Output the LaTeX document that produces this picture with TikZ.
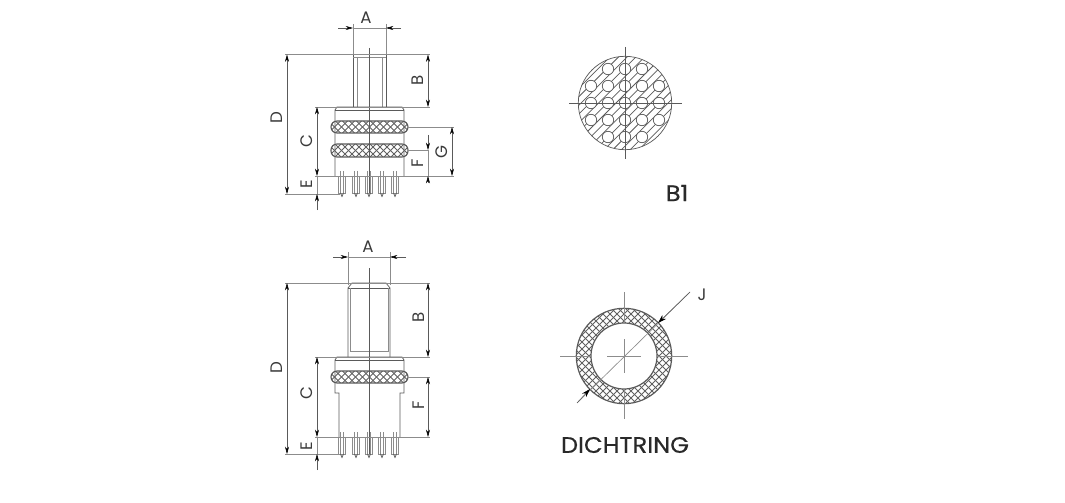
\documentclass[tikz,border=0pt]{standalone}
\usepackage{fontspec}
\setmainfont{Poppins}
\newfontfamily\titlefont[FakeBold=0.55, FakeStretch=1.08]{Poppins}
\usepackage{xcolor}
\definecolor{base01}{HTML}{5a5a5a}
\definecolor{base02}{HTML}{8c8c8c}
\definecolor{base03}{HTML}{3a3a3a}
\definecolor{base04}{HTML}{606060}
\usetikzlibrary{arrows.meta, positioning}
\tikzset{
    part/.style={draw=base01, line width=.55pt},
    thin part/.style={draw=base02, line width=.5pt},
    mesh/.style={draw=base04, line width=.6pt},
    ext/.style={draw=base02, line width=.4pt},
    conn/.style={
        draw=base01, line width=.4pt,
        {Stealth[length=5.5pt, width=3pt, black]}-{Stealth[length=5.5pt, width=3pt, black]},
    },
    connr/.style={
        draw=base01, line width=.4pt,
        -{Stealth[length=5.5pt, width=3pt, black]},
    },
    connj/.style={
        draw=base01, line width=.4pt,
        -{Stealth[length=6.5pt, width=4pt, black]},
    },
    dimlabel/.style={text=base03, inner sep=0pt, font=\fontsize{12.5}{14}\selectfont},
    dimlabelr/.style={dimlabel, rotate=90},
    title/.style={text=base03!70!black, inner sep=0pt, font=\titlefont\fontsize{16.8}{20}\selectfont},
    pics/lead/.style={code={
        \draw[thin part] (-3.5,0) rectangle (3.5,17);
        \draw[thin part] (-1.5,-5) -- (-1.5,17);
        \draw[thin part] (1.5,-5) -- (1.5,17);
        \draw[part] (-1.5,17) -- (0,20.5) -- (1.5,17);
    }},
}
% knurled band with rounded ends
\newcommand{\knurl}[4]{
    \begin{scope}
        \clip[rounded corners=6*.75pt] (#1,#2) rectangle (#3,#4);
        \foreach \s in {-63,-56,...,63} {
            \draw[mesh] ({(#1+#3)/2+\s-12},{(#2+#4)/2-12}) -- ({(#1+#3)/2+\s+12},{(#2+#4)/2+12});
            \draw[mesh] ({(#1+#3)/2+\s-12},{(#2+#4)/2+12}) -- ({(#1+#3)/2+\s+12},{(#2+#4)/2-12});
        }
    \end{scope}
    \draw[draw=base01, line width=.85pt, rounded corners=6*.75pt] (#1,#2) rectangle (#3,#4);
}
\begin{document}
\begin{tikzpicture}[x=.75pt, y=-.75pt]
    \useasboundingbox (0,0) rectangle (1065,503);

    % upper view
    \draw[part] (353,55) -- (353,107) (386,55) -- (386,107);
    \draw[thin part] (357,57) -- (357,107) (382,57) -- (382,107);
    \draw[thin part] (353,57) -- (386,57);
    \draw[part] (335,176) -- (335,110) -- (337,107) -- (402,107) -- (404,110) -- (404,176);
    \draw[part] (335,110) -- (404,110);
    \knurl{331}{121}{408}{133}
    \knurl{331}{144}{408}{157}
    \foreach \x in {342, 356, 369, 382, 395}
        \pic at (\x,176) {lead};
    \draw[part] (369,48) -- (369,193);

    \coordinate (a1) at (353,28);
    \coordinate (a2) at (386,28);
    \coordinate (d1) at (287,54.5);
    \coordinate (d2) at (287,194);
    \coordinate (b1) at (428,54.5);
    \coordinate (b2) at (428,107);
    \coordinate (c1) at (317,107);
    \coordinate (c2) at (317,176);
    \coordinate (e1) at (317,194);
    \coordinate (e2) at (317,210);
    \coordinate (g1) at (452,127);
    \coordinate (g2) at (452,176);
    \coordinate (f1) at (428,150);
    \coordinate (f2) at (428,176);
    \coordinate (f3) at (428,135);
    \coordinate (f4) at (428,183);

    \draw[ext] (353,24) -- (353,55) (386,24) -- (386,55);
    \draw[ext] (285,54.5) -- (430,54.5) (285,194) -- (340,194);
    \draw[ext] (315,107) -- (430,107) (315,176) -- (454,176);
    \draw[ext] (408,127) -- (454,127) (408,150) -- (428,150);

    \draw[connr] (338,28) -- (a1);
    \draw[connr] (401,28) -- (a2);
    \draw[ext] (a1) -- (a2);
    \draw[conn] (d1) -- (d2);
    \draw[conn] (b1) -- (b2);
    \draw[conn] (c1) -- (c2);
    \draw[ext] (c2) -- (e1);
    \draw[connr] (e2) -- (e1);
    \draw[conn] (g1) -- (g2);
    \draw[connr] (f3) -- (f1);
    \draw[connr] (f4) -- (f2);
    \draw[ext] (f1) -- (f2);

    \node[dimlabel] (la) at (366,18) {A};
    \node[dimlabelr] (ld) at (277,118) {D};
    \node[dimlabelr] (lb) at (418,80) {B};
    \node[dimlabelr] (lc) at (307,141) {C};
    \node[dimlabelr] (le) at (307,184) {E};
    \node[dimlabelr] (lg) at (442,152) {G};
    \node[dimlabelr] (lf) at (418,163) {F};

    % lower view
    \draw[part] (348,357) -- (348,288) -- (352,283) -- (386,283) -- (390,288) -- (390,357);
    \draw[part] (348,288) -- (390,288);
    \draw[thin part] (350,288) -- (350,351) -- (388,351) -- (388,288);
    \draw[part] (348,357) -- (390,357);
    \draw[part] (339,437) -- (339,393) -- (335,393) -- (335,360) -- (337,357) -- (402,357)
        -- (404,360) -- (404,393) -- (400,393) -- (400,437);
    \draw[part] (335,360) -- (404,360);
    \knurl{331}{371}{408}{383}
    \foreach \x in {342, 356, 369, 382, 395}
        \pic at (\x,437) {lead};
    \draw[part] (369,268) -- (369,454);

    \coordinate (aa1) at (348,257);
    \coordinate (aa2) at (390,257);
    \coordinate (dd1) at (287,283);
    \coordinate (dd2) at (287,454);
    \coordinate (bb1) at (428,283);
    \coordinate (bb2) at (428,357);
    \coordinate (cc1) at (317,357);
    \coordinate (cc2) at (317,437);
    \coordinate (ee1) at (317,454);
    \coordinate (ee2) at (317,470);
    \coordinate (ff1) at (428,377);
    \coordinate (ff2) at (428,437);

    \draw[ext] (348,252) -- (348,285) (390,252) -- (390,285);
    \draw[ext] (285,283) -- (430,283) (285,454) -- (340,454);
    \draw[ext] (315,357) -- (430,357) (315,437) -- (430,437);
    \draw[ext] (408,377) -- (430,377);

    \draw[connr] (333,257) -- (aa1);
    \draw[connr] (406,257) -- (aa2);
    \draw[ext] (aa1) -- (aa2);
    \draw[conn] (dd1) -- (dd2);
    \draw[conn] (bb1) -- (bb2);
    \draw[conn] (cc1) -- (cc2);
    \draw[ext] (cc2) -- (ee1);
    \draw[connr] (ee2) -- (ee1);
    \draw[conn] (ff1) -- (ff2);

    \node[dimlabel] (laa) at (368,247) {A};
    \node[dimlabelr] (ldd) at (277,368) {D};
    \node[dimlabelr] (lbb) at (419,317) {B};
    \node[dimlabelr] (lcc) at (307,393) {C};
    \node[dimlabelr] (lee) at (307,446) {E};
    \node[dimlabelr] (lff) at (419,405) {F};

    % section B1
    \begin{scope}
        \clip (625,103) circle (46.7);
        \foreach \s in {-96,-87.3,...,96}
            \draw[part] ({625+\s-60},{103+60}) -- ({625+\s+60},{103-60});
    \end{scope}
    \foreach \y/\xs in {-34/{-17,0,17}, -17/{-34,-17,0,17,34}, 0/{-34,-17,0,17,34},
                        17/{-34,-17,0,17,34}, 34/{-17,0,17}}
        \foreach \x in \xs
            \draw[part, fill=white] ({625+\x},{103+\y}) circle (5.7);
    \draw[part] (625,103) circle (46.7);
    \coordinate (h1) at (569,103);
    \coordinate (h2) at (682,103);
    \coordinate (v1) at (625,47);
    \coordinate (v2) at (625,159);
    \draw[part] (h1) -- (h2);
    \draw[part] (v1) -- (v2);
    \node[title] (tb) at (677,193) {B1};

    % sealing ring
    \begin{scope}
        \clip (624,356) circle (47.7);
        \foreach \s in {-119,-112,...,119} {
            \draw[mesh] ({624+\s-60},{356-60}) -- ({624+\s+60},{356+60});
            \draw[mesh] ({624+\s-60},{356+60}) -- ({624+\s+60},{356-60});
        }
    \end{scope}
    \fill[white] (624,356) circle (33);
    \draw[draw=base01, line width=.9pt] (624,356) circle (47.7) (624,356) circle (33);
    \draw[thin part] (560,356) -- (590,356) (607,356) -- (641,356) (658,356) -- (688,356);
    \draw[thin part] (624,292) -- (624,322) (624,339) -- (624,373) (624,390) -- (624,419);
    \coordinate (j1) at (690,292);
    \coordinate (j2) at (577,403);
    \coordinate (j3) at (658,323);
    \coordinate (j4) at (590,389);
    \draw[thin part] (j1) -- (j2);
    \draw[connj] (j1) -- (j3);
    \draw[connj] (j2) -- (j4);
    \node[dimlabel] (lj) at (702,295) {J};
    \node[title] (td) at (625,445) {DICHTRING};
\end{tikzpicture}
\end{document}
